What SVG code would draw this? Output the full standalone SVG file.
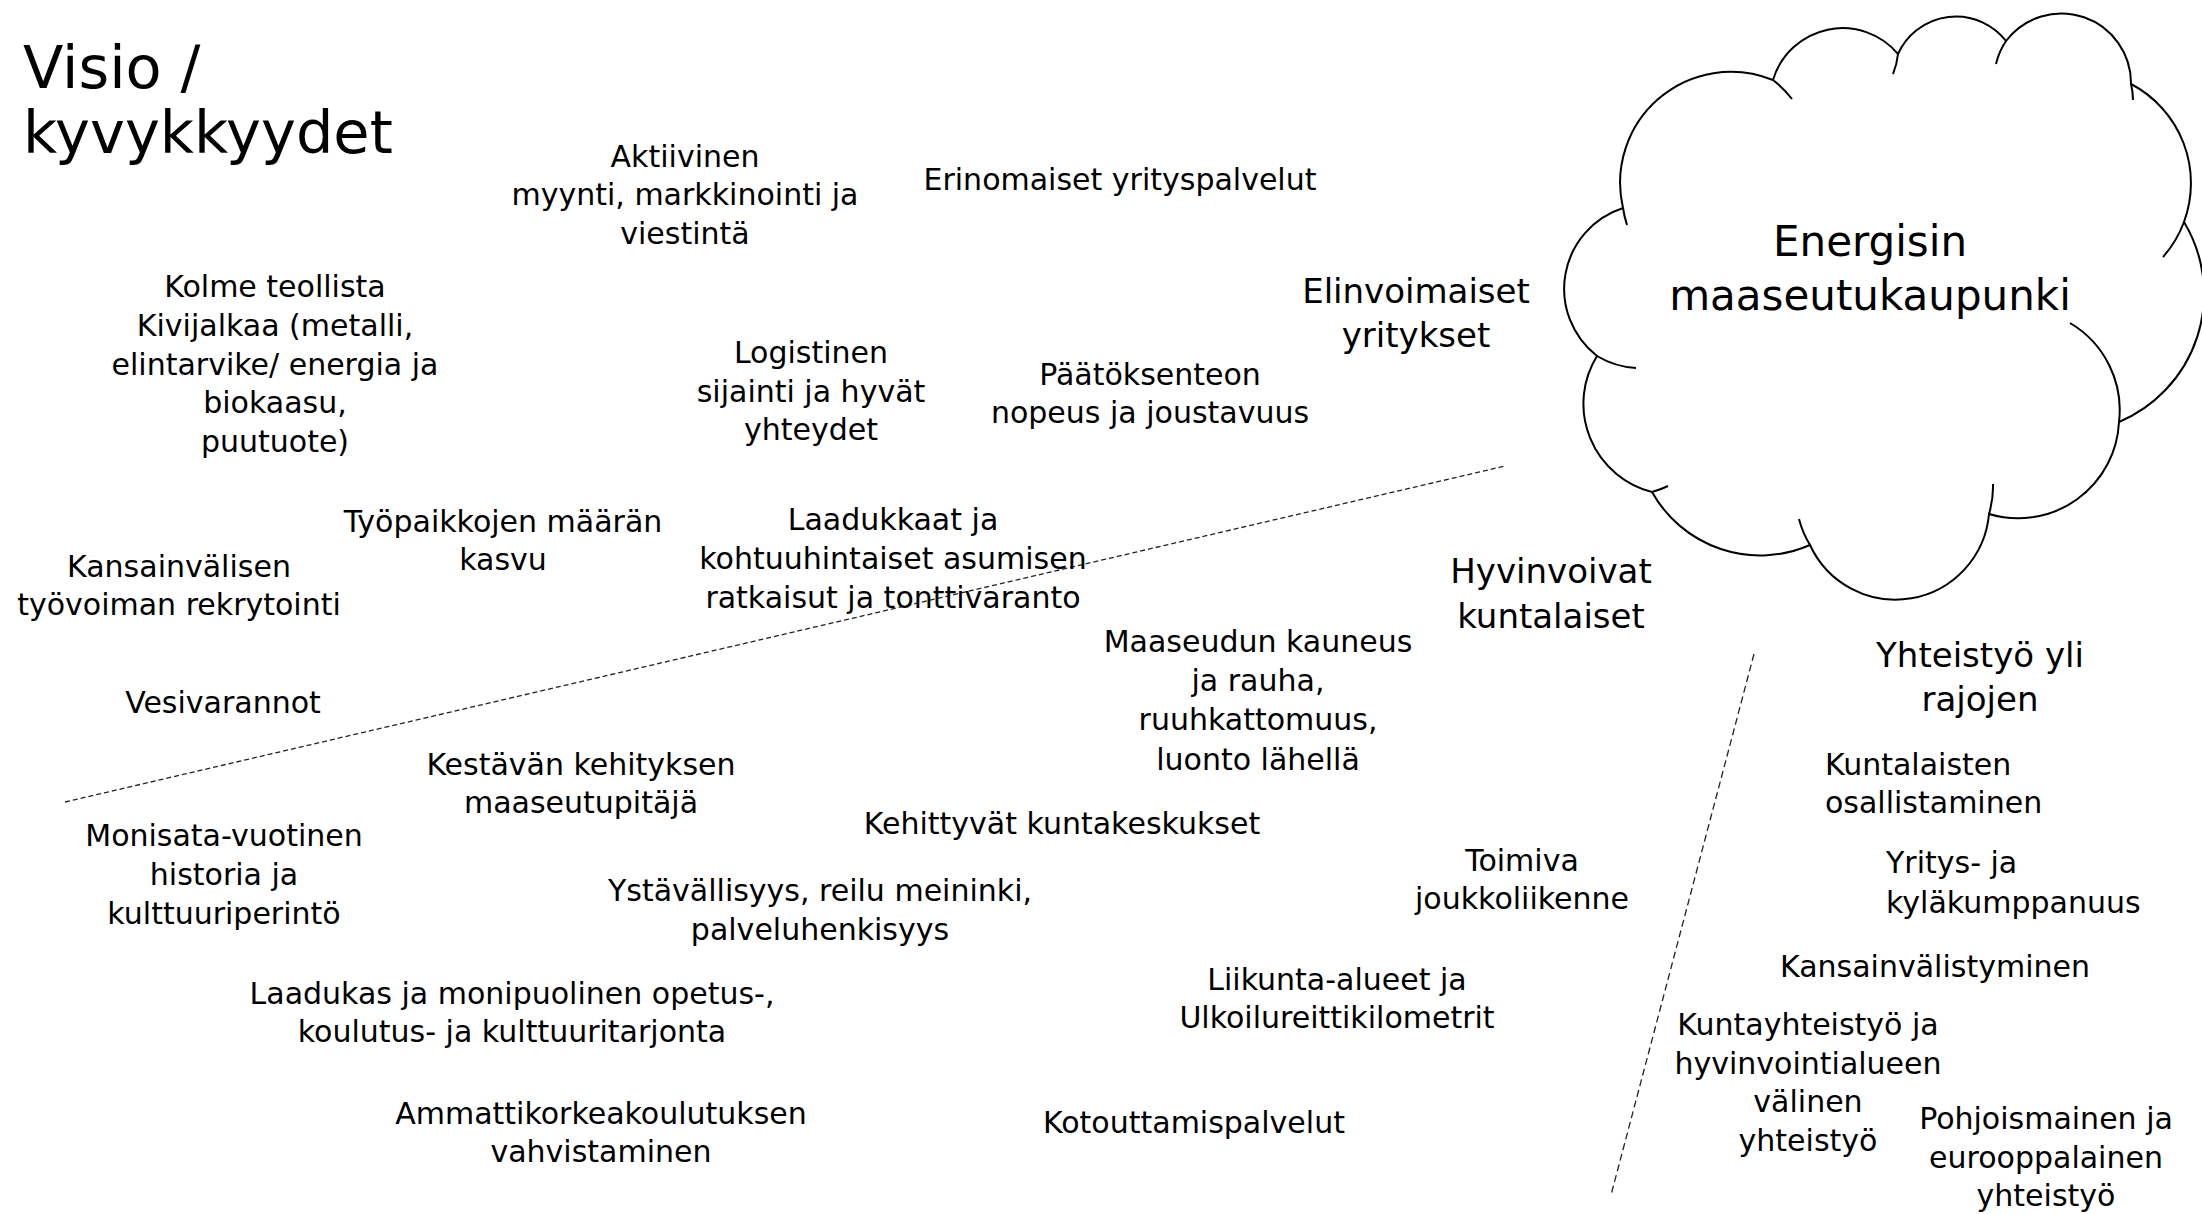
<svg xmlns="http://www.w3.org/2000/svg" width="2202" height="1214" viewBox="0 0 2202 1214">
<style>
  text { font-family: "DejaVu Sans", "Liberation Sans", sans-serif; fill: #000; }
  .b { font-size: 30px; text-anchor: middle; }
  .bl { font-size: 30px; text-anchor: start; }
  .h { font-size: 34px; text-anchor: middle; }
  .c { font-size: 42px; text-anchor: middle; }
  .t { font-size: 59px; }
  .cloud { fill: #fff; stroke: #000; stroke-width: 2; }
  .ext { fill: none; stroke: #000; stroke-width: 2; }
  .d1 { stroke: #222; stroke-width: 1.3; stroke-dasharray: 5 3; fill: none; }
  .d2 { stroke: #222; stroke-width: 1.3; stroke-dasharray: 7 4; fill: none; }
</style>
<rect width="2202" height="1214" fill="#fff"/>

<g id="connectors">
  <line class="d1" x1="65" y1="802" x2="1505" y2="466"/>
  <line class="d2" x1="1754" y1="654" x2="1611" y2="1195"/>
</g>

<g id="title">
  <text class="t" x="23" y="88">Visio /</text>
  <text class="t" x="23" y="153">kyvykkyydet</text>
</g>

<g id="cloud-node">
  <path class="cloud" d="M1623 208 A111 111 0 0 1 1773 80 A72.5 72.5 0 0 1 1898 54 A63.5 63.5 0 0 1 2006 41 A69.6 69.6 0 0 1 2131 84 A112 112 0 0 1 2184 222 A139 139 0 0 1 2119 422 A101 101 0 0 1 1989 514 A94 94 0 0 1 1810 545 A124 124 0 0 1 1652 492 A91 91 0 0 1 1597 356 A85 85 0 0 1 1623 208 Z"/>
  <path class="ext" d="M1627 225 A111 111 0 0 1 1623 208 M1773 80 A111 111 0 0 1 1792 99 M1898 54 A72.5 72.5 0 0 1 1893 74 M1996 64 A69.6 69.6 0 0 1 2006 41 M2131 84 A69.6 69.6 0 0 1 2133 100 M2184 222 A112 112 0 0 1 2163 257 M2070 323 A101 101 0 0 1 2119 422 M1993 484 A94 94 0 0 1 1989 514 M1810 545 A94 94 0 0 1 1799 519 M1668 486 A91 91 0 0 1 1652 492 M1636 368 A85 85 0 0 1 1597 356"/>
  <text class="c" x="1870" y="256">Energisin</text>
  <text class="c" x="1870" y="310">maaseutukaupunki</text>
</g>

<g id="aktiivinen">
  <text class="b" x="685" y="167">Aktiivinen</text>
  <text class="b" x="685" y="205">myynti, markkinointi ja</text>
  <text class="b" x="685" y="244">viestintä</text>
</g>

<g id="erinomaiset">
  <text class="b" x="1120" y="190">Erinomaiset yrityspalvelut</text>
</g>

<g id="kolme">
  <text class="b" x="275" y="297">Kolme teollista</text>
  <text class="b" x="275" y="336">Kivijalkaa (metalli,</text>
  <text class="b" x="275" y="375">elintarvike/ energia ja</text>
  <text class="b" x="275" y="413">biokaasu,</text>
  <text class="b" x="275" y="452">puutuote)</text>
</g>

<g id="elinvoimaiset">
  <text class="h" x="1416" y="303">Elinvoimaiset</text>
  <text class="h" x="1416" y="347">yritykset</text>
</g>

<g id="logistinen">
  <text class="b" x="811" y="363">Logistinen</text>
  <text class="b" x="811" y="402">sijainti ja hyvät</text>
  <text class="b" x="811" y="440">yhteydet</text>
</g>

<g id="paatoksenteon">
  <text class="b" x="1150" y="385">Päätöksenteon</text>
  <text class="b" x="1150" y="423">nopeus ja joustavuus</text>
</g>

<g id="tyopaikkojen">
  <text class="b" x="503" y="532">Työpaikkojen määrän</text>
  <text class="b" x="503" y="570">kasvu</text>
</g>

<g id="kansainvalisen">
  <text class="b" x="179" y="577">Kansainvälisen</text>
  <text class="b" x="179" y="615">työvoiman rekrytointi</text>
</g>

<g id="laadukkaat">
  <text class="b" x="893" y="530">Laadukkaat ja</text>
  <text class="b" x="893" y="569">kohtuuhintaiset asumisen</text>
  <text class="b" x="893" y="608">ratkaisut ja tonttivaranto</text>
</g>

<g id="hyvinvoivat">
  <text class="h" x="1551" y="583">Hyvinvoivat</text>
  <text class="h" x="1551" y="628">kuntalaiset</text>
</g>

<g id="maaseudun">
  <text class="b" x="1258" y="652">Maaseudun kauneus</text>
  <text class="b" x="1258" y="691">ja rauha,</text>
  <text class="b" x="1258" y="730">ruuhkattomuus,</text>
  <text class="b" x="1258" y="770">luonto lähellä</text>
</g>

<g id="yhteistyo-yli">
  <text class="h" x="1980" y="667">Yhteistyö yli</text>
  <text class="h" x="1980" y="711">rajojen</text>
</g>

<g id="vesivarannot">
  <text class="b" x="223" y="713">Vesivarannot</text>
</g>

<g id="kestavan">
  <text class="b" x="581" y="775">Kestävän kehityksen</text>
  <text class="b" x="581" y="813">maaseutupitäjä</text>
</g>

<g id="kuntalaisten">
  <text class="bl" x="1825" y="775">Kuntalaisten</text>
  <text class="bl" x="1825" y="813">osallistaminen</text>
</g>

<g id="kehittyvat">
  <text class="b" x="1062" y="834">Kehittyvät kuntakeskukset</text>
</g>

<g id="monisata">
  <text class="b" x="224" y="846">Monisata-vuotinen</text>
  <text class="b" x="224" y="885">historia ja</text>
  <text class="b" x="224" y="924">kulttuuriperintö</text>
</g>

<g id="yritys">
  <text class="bl" x="1886" y="873">Yritys- ja</text>
  <text class="bl" x="1886" y="913">kyläkumppanuus</text>
</g>

<g id="toimiva">
  <text class="b" x="1522" y="871">Toimiva</text>
  <text class="b" x="1522" y="909">joukkoliikenne</text>
</g>

<g id="ystavallisyys">
  <text class="b" x="820" y="901">Ystävällisyys, reilu meininki,</text>
  <text class="b" x="820" y="940">palveluhenkisyys</text>
</g>

<g id="kansainvalistyminen">
  <text class="b" x="1935" y="977">Kansainvälistyminen</text>
</g>

<g id="liikunta">
  <text class="b" x="1337" y="990">Liikunta-alueet ja</text>
  <text class="b" x="1337" y="1028">Ulkoilureittikilometrit</text>
</g>

<g id="laadukas">
  <text class="b" x="512" y="1004">Laadukas ja monipuolinen opetus-,</text>
  <text class="b" x="512" y="1042">koulutus- ja kulttuuritarjonta</text>
</g>

<g id="kuntayhteistyo">
  <text class="b" x="1808" y="1035">Kuntayhteistyö ja</text>
  <text class="b" x="1808" y="1074">hyvinvointialueen</text>
  <text class="b" x="1808" y="1112">välinen</text>
  <text class="b" x="1808" y="1151">yhteistyö</text>
</g>

<g id="ammattikorkeakoulutuksen">
  <text class="b" x="601" y="1124">Ammattikorkeakoulutuksen</text>
  <text class="b" x="601" y="1162">vahvistaminen</text>
</g>

<g id="kotouttamispalvelut">
  <text class="b" x="1194" y="1133">Kotouttamispalvelut</text>
</g>

<g id="pohjoismainen">
  <text class="b" x="2046" y="1129">Pohjoismainen ja</text>
  <text class="b" x="2046" y="1168">eurooppalainen</text>
  <text class="b" x="2046" y="1206">yhteistyö</text>
</g>
</svg>
